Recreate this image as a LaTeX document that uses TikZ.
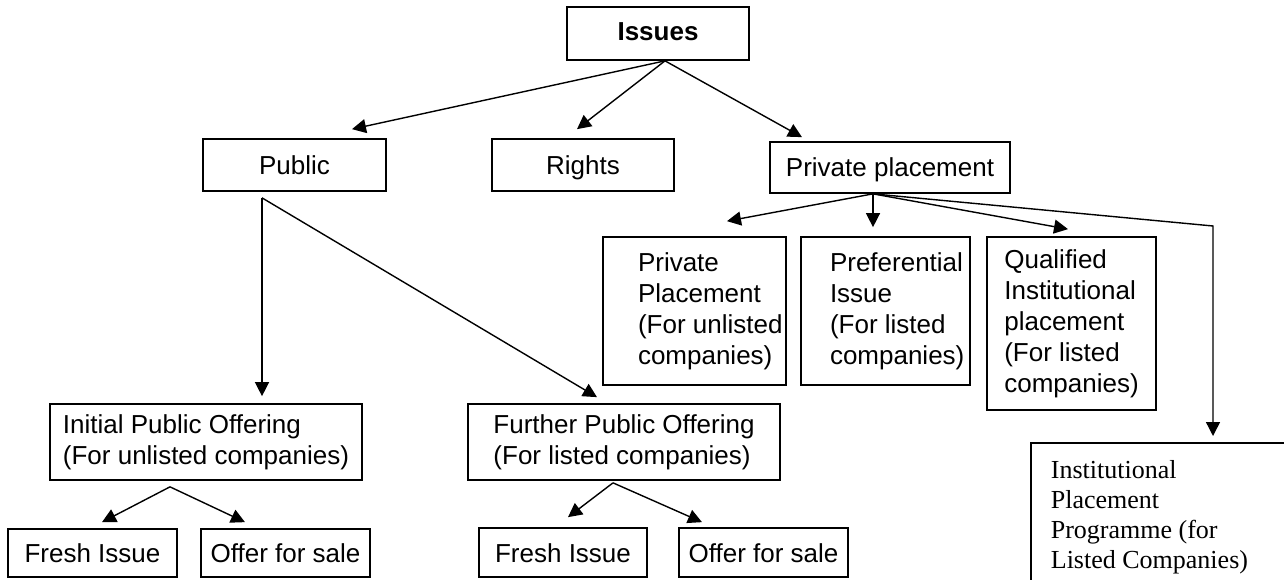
\documentclass[tikz,border=0pt]{standalone}
\usepackage{fontspec}
\setmainfont{Liberation Sans}
\newfontfamily\serifrm{Liberation Serif}
\usetikzlibrary{arrows.meta}

\begin{document}
\begin{tikzpicture}[x=1pt,y=-1pt,>={Triangle[length=14pt,width=14pt]}]
	\tikzstyle{box}=[draw, rectangle, line width=1.7pt, align=flush left, inner sep=4pt, font=\fontsize{26}{31}\selectfont]
	\tikzstyle{line1}=[text height=21pt, text depth=2pt]
	\tikzstyle{arr}=[->, line width=1.4pt]
	\useasboundingbox (0,0) rectangle (1284,580);
	\clip (0,0) rectangle (1284,580);

	\node[box, text height=19pt, text depth=5pt, minimum width=182pt, minimum height=53pt, font=\bfseries\fontsize{26}{31}\selectfont] (I) at (658,33.5) {Issues};
	\node[box, line1, minimum width=183pt, minimum height=52pt] (P) at (294.5,165) {Public};
	\node[box, line1, minimum width=182pt, minimum height=52pt] (R) at (583,165) {Rights};
	\node[box, line1, minimum width=240pt, minimum height=51pt] (V) at (890,167.5) {Private placement};
	% children of private placement
	\node[box, inner xsep=35pt, text width=113pt, minimum height=148pt] (V1) at (694.5,311) {Private\\Placement\\\mbox{(For unlisted}\\companies)};
	\node[box, inner xsep=29pt, text width=111pt, minimum height=148pt] (V2) at (885.5,311) {Preferential\\Issue\\\mbox{(For listed}\\companies)};
	\node[box, minimum width=169pt, minimum height=173pt] (V3) at (1071.5,323.5) {Qualified\\Institutional\\placement\\(For listed\\companies)};
	\node[box, anchor=north west, inner xsep=20pt, text width=320pt, minimum height=148pt, font=\serifrm\fontsize{26}{30}\selectfont] (V4) at (1030,442) {Institutional\\Placement\\Programme (for\\Listed Companies)};
	% public offerings
	\node[box, minimum width=312pt, minimum height=76pt] (P1) at (206,442) {Initial Public Offering\\(For unlisted companies)};
	\node[box, minimum width=312pt, minimum height=76pt] (P2) at (624,442) {Further Public Offering\\(For listed companies)};
	\node[box, line1, minimum width=169pt, minimum height=48pt] (F1) at (92.5,553) {Fresh Issue};
	\node[box, line1, minimum width=169pt, minimum height=48pt] (S1) at (285.5,553) {Offer for sale};
	\node[box, line1, minimum width=168pt, minimum height=49pt] (F2) at (563,552.5) {Fresh Issue};
	\node[box, line1, minimum width=169pt, minimum height=49pt] (S2) at (763.5,552.5) {Offer for sale};

	\draw[arr] ([xshift=7pt]I.south) -- ([xshift=57.5pt,yshift=9pt]P.north);
	\draw[arr] ([xshift=7pt]I.south) -- ([xshift=-6pt,yshift=9pt]R.north);
	\draw[arr] ([xshift=7pt]I.south) -- ([xshift=-88pt,yshift=4pt]V.north);

	\draw[arr] ([xshift=-32.5pt,yshift=-6pt]P.south) -- ([xshift=56pt,yshift=7pt]P1.north);
	\draw[arr] ([xshift=-32.5pt,yshift=-6pt]P.south) -- ([xshift=-27pt,yshift=6pt]P2.north);

	\draw[arr] ([xshift=-17pt]V.south) -- ([xshift=32.5pt,yshift=15pt]V1.north);
	\draw[arr] ([xshift=-17pt]V.south) -- ([xshift=-12.5pt,yshift=9pt]V2.north);
	\draw[arr] ([xshift=-17pt]V.south) -- ([xshift=-3.5pt,yshift=7pt]V3.north);
	\draw[arr] ([xshift=-17pt]V.south) -- ([xshift=183pt,yshift=216pt]V4.north west) -- ([xshift=183pt,yshift=6pt]V4.north west);

	\draw[arr] ([xshift=-36pt,yshift=-6pt]P1.south) -- ([xshift=9.5pt,yshift=6pt]F1.north);
	\draw[arr] ([xshift=-36pt,yshift=-6pt]P1.south) -- ([xshift=-40.5pt,yshift=6pt]S1.north);
	\draw[arr] ([xshift=-11pt,yshift=-2pt]P2.south) -- ([xshift=5pt,yshift=10pt]F2.north);
	\draw[arr] ([xshift=-11pt,yshift=-2pt]P2.south) -- ([xshift=-61.5pt,yshift=5pt]S2.north);
\end{tikzpicture}
\end{document}
